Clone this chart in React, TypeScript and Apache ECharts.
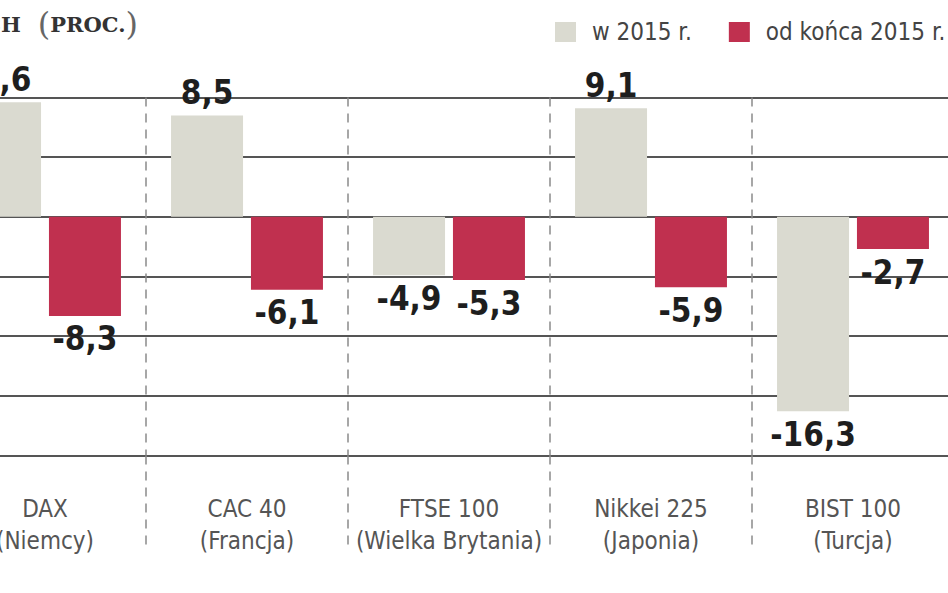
import React, { useEffect, useRef } from 'react';
import * as echarts from 'echarts';

// data (percent change)
const indexNames = ['DAX', 'CAC 40', 'FTSE 100', 'Nikkei 225', 'BIST 100'];
const countries = ['Niemcy', 'Francja', 'Wielka Brytania', 'Japonia', 'Turcja'];
const change2015 = [9.6, 8.5, -4.9, 9.1, -16.3];
const changeSinceEnd2015 = [-8.3, -6.1, -5.3, -5.9, -2.7];
const seriesNames = ['w 2015 r.', 'od końca 2015 r.'];
const yMin = -20;
const yMax = 10;
const yStep = 5;

const SANS = "'DejaVu Sans Condensed', 'Liberation Sans Narrow', sans-serif";
const SERIF = "'DejaVu Serif', 'Liberation Serif', serif";
const GRAY = '#dadad0';
const RED = '#c0304f';

// the chart is wider than the window and shifted left, like the cropped original
const OFFSET_X = 80;

const formatPl = (v: number) => String(v).replace('.', ',');

const App: React.FC = () => {
  const chartRef = useRef<HTMLDivElement>(null);

  useEffect(() => {
    if (!chartRef.current) {
      return;
    }
    const chart = echarts.init(chartRef.current, null, { renderer: 'svg' });

    const valueLabel = {
      show: true,
      fontFamily: SANS,
      fontWeight: 'bold' as const,
      fontSize: 33,
      lineHeight: 36,
      color: '#1e1e1e',
      distance: 5,
      formatter: (p: any) => formatPl(p.value)
    };

    const toData = (values: number[]) =>
      values.map(v => ({
        value: v,
        label: { position: v >= 0 ? 'top' : 'bottom' }
      }));

    const option: echarts.EChartsOption = {
      animation: false,
      backgroundColor: '#ffffff',
      graphic: [
        {
          type: 'text',
          x: 138 + OFFSET_X,
          y: 24,
          style: {
            text: '{b|ZMIANA INDEKSÓW NA GŁÓWNYCH GIEŁDACH}{g|}{p|(}{b|PROC.}{p|)}',
            align: 'right',
            verticalAlign: 'middle',
            rich: {
              b: { fontFamily: SERIF, fontWeight: 'bold', fontSize: 21, fill: '#333' },
              g: { width: 17 },
              p: { fontFamily: SERIF, fontWeight: 'normal', fontSize: 32, fill: '#666' }
            }
          } as any
        }
      ],
      legend: {
        left: 555 + OFFSET_X,
        top: 20,
        padding: 0,
        icon: 'rect',
        itemWidth: 21,
        itemHeight: 20,
        itemGap: 37,
        textStyle: {
          fontFamily: SANS,
          fontSize: 24,
          color: '#444',
          padding: [0, 0, 0, 11]
        },
        data: seriesNames
      },
      grid: {
        left: OFFSET_X - 56,
        top: 97.5,
        width: 202 * indexNames.length,
        height: 358,
        containLabel: false
      },
      xAxis: {
        type: 'category',
        data: indexNames,
        axisLine: { show: false, onZero: false },
        axisTick: {
          show: true,
          interval: 0,
          length: 90,
          lineStyle: { color: '#8a8a8a', width: 1.5, type: [9, 7] }
        },
        splitLine: {
          show: true,
          interval: 0,
          lineStyle: { color: '#8a8a8a', width: 1.5, type: [9, 7] }
        },
        axisLabel: {
          interval: 0,
          margin: 37,
          fontFamily: SANS,
          fontSize: 24,
          lineHeight: 32,
          color: '#555',
          formatter: (name: string) => `${name}\n(${countries[indexNames.indexOf(name)]})`
        }
      },
      yAxis: {
        type: 'value',
        min: yMin,
        max: yMax,
        interval: yStep,
        axisLine: { show: false },
        axisTick: { show: false },
        axisLabel: { show: false },
        splitLine: { lineStyle: { color: '#555', width: 2 } }
      },
      series: [
        {
          name: seriesNames[0],
          type: 'bar',
          data: toData(change2015) as any,
          barWidth: 72,
          barGap: '11%',
          itemStyle: { color: GRAY },
          label: valueLabel as any
        },
        {
          name: seriesNames[1],
          type: 'bar',
          data: toData(changeSinceEnd2015) as any,
          barWidth: 72,
          barGap: '11%',
          itemStyle: { color: RED },
          label: valueLabel as any
        }
      ]
    };

    chart.setOption(option);

    return () => {
      chart.dispose();
    };
  }, []);

  return (
    <div
      style={{
        position: 'absolute',
        left: 0,
        top: 0,
        width: 948,
        height: 593,
        overflow: 'hidden',
        background: '#ffffff'
      }}
    >
      <div
        ref={chartRef}
        style={{
          position: 'absolute',
          left: -OFFSET_X,
          top: 0,
          width: 1120,
          height: 593
        }}
      />
    </div>
  );
};

export default App;
